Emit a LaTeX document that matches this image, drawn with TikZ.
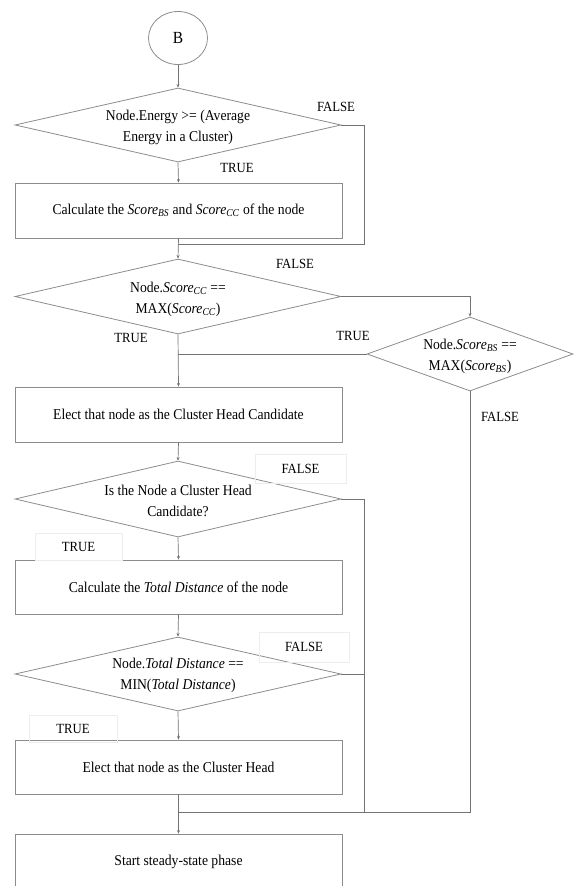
\documentclass[tikz,border=0pt]{standalone}
\usepackage{fontspec}
\setmainfont{Liberation Serif}[FakeStretch=0.91]
\usetikzlibrary{shapes.geometric,arrows.meta}
\newcommand{\scr}[1]{\textit{Score}\textsubscript{\textit{#1}}}
\begin{document}
\begin{tikzpicture}[x=1pt,y=-1pt,
  ln/.style={draw=black!55,line width=0.7pt},
  arr/.style={ln,-{Stealth[length=3.5pt,width=3pt]}},
  box/.style={draw=black!45,line width=0.8pt,rectangle,minimum width=327pt,minimum height=55pt,inner sep=0pt,font=\fontsize{15}{21}\selectfont},
  dia/.style={draw=black!45,line width=0.8pt,diamond,inner sep=0pt,minimum width=326pt,minimum height=74pt},
  txt/.style={align=center,font=\fontsize{15}{21}\selectfont,inner sep=0pt},
  lbl/.style={font=\fontsize{14}{16}\selectfont,inner sep=0pt},
  fl/.style={lbl,draw=black!7,line width=0.6pt}
]
\useasboundingbox (0,0) rectangle (574,886);

% start
\node[draw=black!45,line width=0.8pt,ellipse,minimum width=59pt,minimum height=53pt,inner sep=0pt,font=\fontsize{17}{19}\selectfont] (B) at (178,38) {B};

% decision 1
\node[dia] (d1) at (178,125) {};
\node[txt] (d1t) at (178,127) {Node.Energy >= (Average\\Energy in a Cluster)};
\node[box] (r1) at (178.5,210.5) {Calculate the \scr{BS} and \scr{CC} of the node};

% decision 2
\node[dia,minimum height=75pt] (d2) at (178,296.5) {};
\node[txt] (d2t) at (178,299) {Node.\scr{CC} ==\\MAX(\scr{CC})};

% decision 3
\node[dia,minimum width=206pt] (d3) at (470,354) {};
\node[txt] (d3t) at (470,356) {Node.\scr{BS} ==\\MAX(\scr{BS})};

\node[box] (r2) at (178.5,414.5) {Elect that node as the Cluster Head Candidate};

% decision 4
\node[dia,minimum height=76pt] (d4) at (178,499) {};
\node[txt] (d4t) at (178,500.5) {Is the Node a Cluster Head\\Candidate?};

\node[box,minimum height=54pt] (r3) at (178.5,587) {Calculate the \textit{Total Distance} of the node};

% decision 5
\node[dia] (d5) at (178,674) {};
\node[txt] (d5t) at (178,675) {Node.\textit{Total Distance} ==\\MIN(\textit{Total Distance})};

\node[box,minimum height=54pt] (r4) at (178.5,767) {Elect that node as the Cluster Head};

\node[box] (r5) at (178.5,861.5) {\raisebox{0pt}{Start steady-state phase}};

% coordinates
\coordinate (c1) at (364,244);
\coordinate (m1) at (178,244);
\coordinate (t3) at (178,354);
\coordinate (c3) at (470,812);
\coordinate (c4) at (364,812);
\coordinate (m3) at (178,812);

% connectors
\draw[arr] (B.south) -- (d1.north);
\draw[arr] (d1.south) -- (r1.north);
\draw[ln] (d1.east) -| (c1) -- (m1);
\draw[arr] (r1.south) -- (d2.north);
\draw[arr] (d2.east) -| (d3.north);
\draw[arr] (d2.south) -- (r2.north);
\draw[ln] (d3.west) -- (t3);
\draw[ln] (d3.south) -- (c3) -- (m3);
\draw[arr] (r2.south) -- (d4.north);
\draw[arr] (d4.south) -- (r3.north);
\draw[ln] (d4.east) -| (c4);
\draw[arr] (r3.south) -- (d5.north);
\draw[ln] (d5.east) -- (d5.east -| c4);
\draw[arr] (d5.south) -- (r4.north);
\draw[arr] (r4.south) -- (r5.north);
\draw[ln] (c4) -- (m3);

% labels
\node[lbl] (f1) at (336,107) {FALSE};
\node[lbl] (tr1) at (237,168) {TRUE};
\node[lbl] (f2) at (295,264) {FALSE};
\node[lbl] (tr2) at (131,338) {TRUE};
\node[lbl] (tr3) at (353,336) {TRUE};
\node[lbl] (f3) at (500,417) {FALSE};
\node[fl,minimum width=91pt,minimum height=29pt] (f4) at (300.5,468.5) {FALSE};
\node[fl,minimum width=87pt,minimum height=27pt] (tr4) at (78.5,546.5) {TRUE};
\node[fl,minimum width=90pt,minimum height=30pt] (f5) at (304,647) {FALSE};
\node[fl,minimum width=88pt,minimum height=27pt] (tr5) at (73,729) {TRUE};
\end{tikzpicture}
\end{document}
